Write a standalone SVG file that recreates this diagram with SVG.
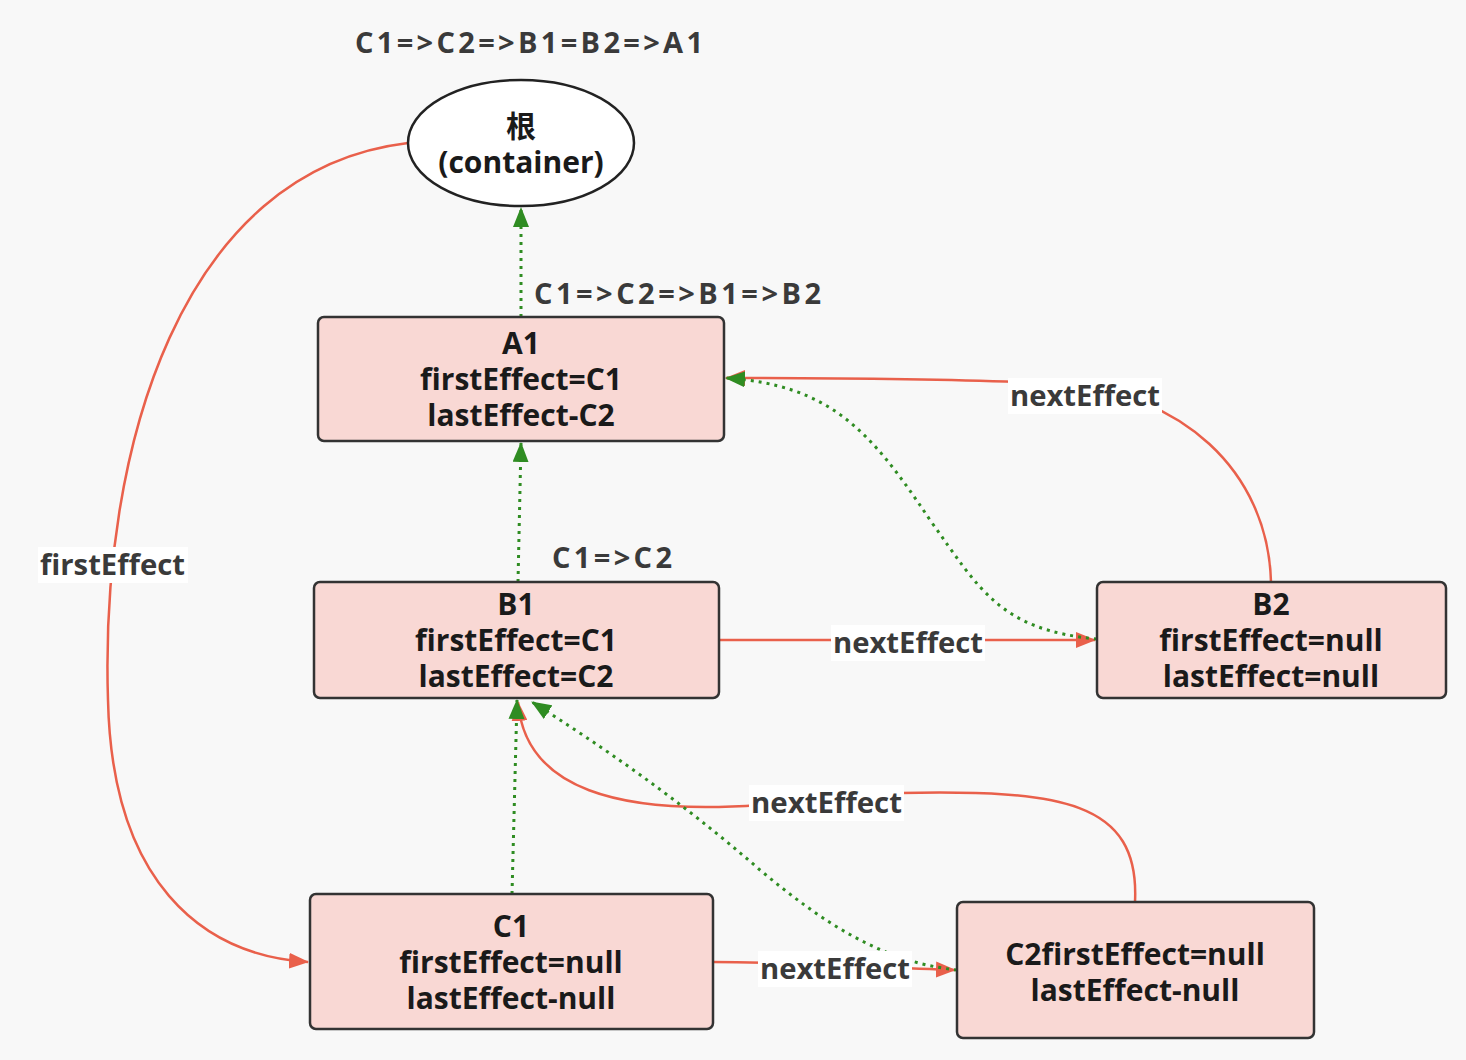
<svg xmlns="http://www.w3.org/2000/svg" width="1466" height="1060" viewBox="0 0 1466 1060">
<defs>
<style>
.bg{fill:#f8f8f8}
.node{fill:#f9d8d4;stroke:#333;stroke-width:2.5}
.ell{fill:#ffffff;stroke:#222;stroke-width:2.5}
.nt{font-family:"Open Sans","Noto Sans CJK SC",sans-serif;font-weight:bold;font-size:30px;fill:#1a1a1a;text-anchor:middle}
.lt{font-family:"Open Sans","Noto Sans CJK SC",sans-serif;font-weight:bold;font-size:29px;fill:#3a3a3a}
.lbg{fill:#ffffff}
.red{fill:none;stroke:#e9604b;stroke-width:2.5}
.grn{fill:none;stroke:#2f8c22;stroke-width:3;stroke-dasharray:3 5}
</style>
<marker id="ar" viewBox="0 0 20 16" refX="19" refY="8" markerWidth="20" markerHeight="16" markerUnits="userSpaceOnUse" orient="auto"><path d="M0,0 L20,8 L0,16 z" fill="#e9604b"/></marker>
<marker id="ag" viewBox="0 0 20 16" refX="19" refY="8" markerWidth="20" markerHeight="16" markerUnits="userSpaceOnUse" orient="auto"><path d="M0,0 L20,8 L0,16 z" fill="#2f8c22"/></marker>
</defs>
<rect class="bg" x="0" y="0" width="1466" height="1060"/>
<text class="lt" x="355" y="53" textLength="348" lengthAdjust="spacing">C1=&gt;C2=&gt;B1=B2=&gt;A1</text>

<g id="connectors">
<path class="red" d="M408,143 C180,170 100,450 108,700 C112,880 200,955 308,962" marker-end="url(#ar)"/>
<path class="red" d="M1271,582 C1268,470 1180,392 1060,384 C950,378 800,378 726,378" marker-end="url(#ar)"/>
<path class="red" d="M719,640 L1095,640" marker-end="url(#ar)"/>
<path class="red" d="M1135,902 C1140,800 1060,790 900,793 L760,805 C620,815 525,790 518,702" marker-end="url(#ar)"/>
<path class="red" d="M713,962 C800,962 880,968 955,970" marker-end="url(#ar)"/>
<path class="grn" d="M521,317 L521,208" marker-end="url(#ag)"/>
<path class="grn" d="M518,582 L521,443" marker-end="url(#ag)"/>
<path class="grn" d="M512,894 L517,700" marker-end="url(#ag)"/>
<path class="grn" d="M957,970 C880,962 820,920 760,870 C680,800 600,745 532,702" marker-end="url(#ag)"/>
<path class="grn" d="M1097,639 C1000,630 980,590 930,520 C870,430 830,385 726,378" marker-end="url(#ag)"/>
<rect class="lbg" x="38" y="547" width="150" height="36"/>
<text class="lt" x="40" y="575" textLength="145" lengthAdjust="spacingAndGlyphs">firstEffect</text>
<rect class="lbg" x="1008" y="378" width="154" height="36"/>
<text class="lt" x="1010" y="406" textLength="150" lengthAdjust="spacingAndGlyphs">nextEffect</text>
<rect class="lbg" x="831" y="625" width="154" height="36"/>
<text class="lt" x="833" y="653" textLength="150" lengthAdjust="spacingAndGlyphs">nextEffect</text>
<rect class="lbg" x="749" y="785" width="155" height="36"/>
<text class="lt" x="751" y="813" textLength="151" lengthAdjust="spacingAndGlyphs">nextEffect</text>
<rect class="lbg" x="758" y="951" width="154" height="36"/>
<text class="lt" x="760" y="979" textLength="150" lengthAdjust="spacingAndGlyphs">nextEffect</text>
<text class="lt" x="534" y="304" textLength="287" lengthAdjust="spacing">C1=&gt;C2=&gt;B1=&gt;B2</text>
<text class="lt" x="552" y="568" textLength="120" lengthAdjust="spacing">C1=&gt;C2</text>
</g>

<g id="root">
<ellipse class="ell" cx="521" cy="143" rx="113" ry="63"/>
<text class="nt" x="521" y="137">根</text>
<text class="nt" x="521" y="173">(container)</text>
</g>
<g id="A1">
<rect class="node" x="318" y="317" width="406" height="124" rx="6"/>
<text class="nt" x="521" y="354">A1</text>
<text class="nt" x="521" y="390">firstEffect=C1</text>
<text class="nt" x="521" y="426">lastEffect-C2</text>
</g>
<g id="B1">
<rect class="node" x="314" y="582" width="405" height="116" rx="6"/>
<text class="nt" x="516" y="615">B1</text>
<text class="nt" x="516" y="651">firstEffect=C1</text>
<text class="nt" x="516" y="687">lastEffect=C2</text>
</g>
<g id="B2">
<rect class="node" x="1097" y="582" width="349" height="116" rx="6"/>
<text class="nt" x="1271" y="615">B2</text>
<text class="nt" x="1271" y="651">firstEffect=null</text>
<text class="nt" x="1271" y="687">lastEffect=null</text>
</g>
<g id="C1">
<rect class="node" x="310" y="894" width="403" height="135" rx="6"/>
<text class="nt" x="511" y="937">C1</text>
<text class="nt" x="511" y="973">firstEffect=null</text>
<text class="nt" x="511" y="1009">lastEffect-null</text>
</g>
<g id="C2">
<rect class="node" x="957" y="902" width="357" height="136" rx="6"/>
<text class="nt" x="1135" y="965">C2firstEffect=null</text>
<text class="nt" x="1135" y="1001">lastEffect-null</text>
</g>
</svg>
